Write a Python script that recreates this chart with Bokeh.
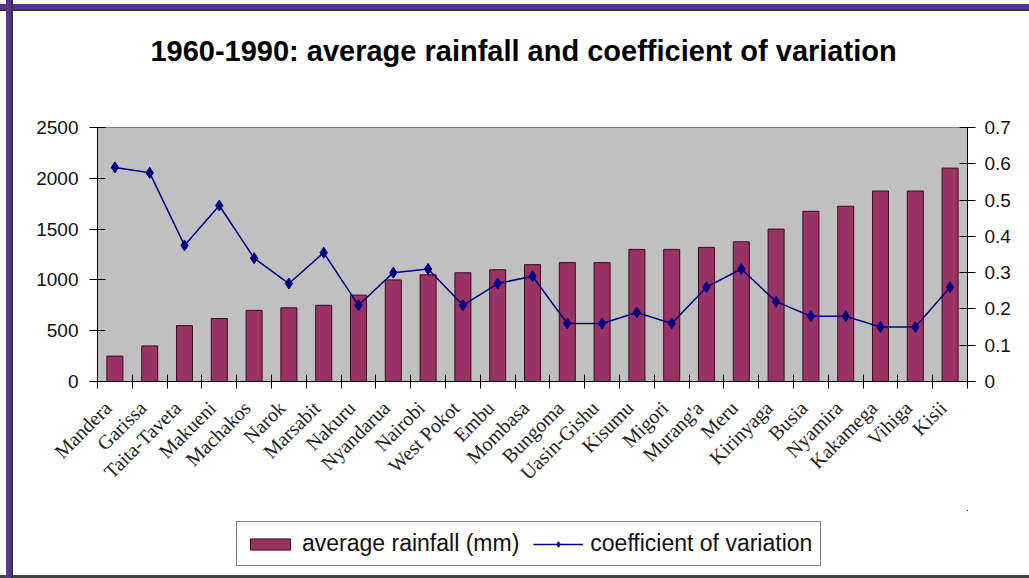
from bokeh.plotting import figure
from bokeh.layouts import column
from bokeh.models import (Range1d, LinearAxis, FixedTicker, CustomJSTickFormatter,
                          Legend, LegendItem, Label, ColumnDataSource)
from bokeh.embed import file_html
from bokeh.resources import INLINE
import math

# ---- data ----
districts = ["Mandera", "Garissa", "Taita-Taveta", "Makueni", "Machakos", "Narok",
             "Marsabit", "Nakuru", "Nyandarua", "Nairobi", "West Pokot", "Embu",
             "Mombasa", "Bungoma", "Uasin-Gishu", "Kisumu", "Migori", "Murang'a",
             "Meru", "Kirinyaga", "Busia", "Nyamira", "Kakamega", "Vihiga", "Kisii"]
rainfall = [250, 350, 550, 620, 700, 725, 750, 850, 1000, 1050, 1070, 1100,
            1150, 1170, 1170, 1300, 1300, 1320, 1375, 1500, 1675, 1725, 1875, 1875, 2100]
cv = [0.59, 0.575, 0.375, 0.485, 0.34, 0.27, 0.355, 0.21, 0.30, 0.31, 0.21, 0.27,
      0.29, 0.16, 0.16, 0.19, 0.16, 0.26, 0.31, 0.22, 0.18, 0.18, 0.15, 0.15, 0.26]
left_ticks = [0, 500, 1000, 1500, 2000, 2500]
right_ticks = [0, 0.1, 0.2, 0.3, 0.4, 0.5, 0.6, 0.7]
title_text = "1960-1990: average rainfall and coefficient of variation"
legend_labels = ["average rainfall (mm)", "coefficient of variation"]

n = len(districts)
centers = [i + 0.5 for i in range(n)]
bounds = [float(i) for i in range(n + 1)]
LABEL_SHIFT = 0.2  # category labels sit a little left of the bar centre
label_pos = [c - LABEL_SHIFT for c in centers]
src = ColumnDataSource(dict(x=centers, rain=rainfall, cv=cv, name=districts))

BAR_FILL, BAR_LINE = "#993366", "#3a0a20"
LINE_COL = "#000080"
AXIS_FONT = "Liberation Sans"

W = 1029
H_TITLE, H_MAIN, H_LEG = 100, 410, 68


def strip(height):
    # a blank band whose ranges keep any data far out of view
    f = figure(width=W, height=height, output_backend="svg", toolbar_location=None,
               x_range=Range1d(-100, -90), y_range=Range1d(-100, -90), title=None,
               min_border=0, x_axis_type=None, y_axis_type=None)
    f.xgrid.visible = False
    f.ygrid.visible = False
    f.outline_line_color = None
    f.background_fill_color = None
    f.border_fill_color = None
    return f


# ---- title strip ----
tf = strip(H_TITLE)
tf.add_layout(Label(x=426, y=50, x_units="screen", y_units="screen", text=title_text,
                    text_font=AXIS_FONT, text_font_size="29px", text_font_style="bold",
                    text_align="center", text_baseline="middle", text_color="black"))

# ---- main chart ----
p = figure(width=W, height=H_MAIN, output_backend="svg", toolbar_location=None,
           x_range=Range1d(0, n), y_range=Range1d(0, 2500), title=None,
           min_border_left=97, min_border_right=62, min_border_top=27,
           min_border_bottom=129, x_axis_type=None, y_axis_type=None)
p.background_fill_color = "#c0c0c0"
p.border_fill_color = None
p.outline_line_color = "#808080"
p.xgrid.visible = False
p.ygrid.visible = False
p.extra_y_ranges = {"cv": Range1d(0, 0.7)}

yl = LinearAxis(ticker=FixedTicker(ticks=left_ticks))
yl.major_label_text_font = AXIS_FONT
yl.major_label_text_font_size = "19px"
yl.major_label_text_color = "#111111"
yl.major_tick_in = 8
yl.major_tick_out = 8
yl.major_label_standoff = 11
yl.minor_tick_line_color = None
p.add_layout(yl, "left")

yr = LinearAxis(y_range_name="cv", ticker=FixedTicker(ticks=right_ticks),
                formatter=CustomJSTickFormatter(code="return tick == 0 ? '0' : tick.toFixed(1);"))
yr.major_label_text_font = AXIS_FONT
yr.major_label_text_font_size = "19px"
yr.major_label_text_color = "#111111"
yr.major_tick_in = 8
yr.major_tick_out = 8
yr.major_label_standoff = 9
yr.minor_tick_line_color = None
p.add_layout(yr, "right")

xb = LinearAxis(ticker=FixedTicker(ticks=label_pos, minor_ticks=bounds))
xb.major_label_overrides = {c: d for c, d in zip(label_pos, districts)}
xb.major_tick_line_color = None
xb.minor_tick_line_color = "black"
xb.minor_tick_in = 7
xb.minor_tick_out = 7
xb.major_label_orientation = math.pi / 4
xb.major_label_text_font = "Liberation Serif"
xb.major_label_text_font_size = "20px"
xb.major_label_text_color = "#222222"
xb.major_label_standoff = 16
p.add_layout(xb, "below")

p.vbar(x="x", top="rain", width=0.46, source=src, fill_color=BAR_FILL,
       line_color=BAR_LINE, line_width=1)
p.line(x="x", y="cv", source=src, y_range_name="cv", line_color=LINE_COL, line_width=1.5)
p.scatter(x="x", y="cv", source=src, y_range_name="cv", marker="diamond",
          size=11, fill_color=LINE_COL, line_color=LINE_COL)

# ---- legend strip (same data, kept out of view; only the legend shows) ----
lf = strip(H_LEG)
lb = lf.vbar(x="x", top="rain", width=0.46, source=src, fill_color=BAR_FILL,
             line_color=BAR_LINE)
ll = lf.line(x="x", y="cv", source=src, line_color=LINE_COL, line_width=1.5)
lm = lf.scatter(x="x", y="cv", source=src, marker="diamond", size=10,
                fill_color=LINE_COL, line_color=LINE_COL)
legend = Legend(items=[LegendItem(label=legend_labels[0], renderers=[lb]),
                       LegendItem(label=legend_labels[1], renderers=[ll, lm])],
                orientation="horizontal", location=(139, 12))
legend.label_text_font = AXIS_FONT
legend.label_text_font_size = "23px"
legend.label_text_color = "#111111"
legend.glyph_width = 50
legend.glyph_height = 14
legend.label_standoff = 7
legend.spacing = 14
legend.padding = 8
legend.margin = 0
legend.border_line_color = "black"
legend.border_line_width = 1
legend.background_fill_color = "white"
legend.background_fill_alpha = 1
lf.add_layout(legend, "center")

lay = column(tf, p, lf)
lay.styles = {
    "width": "1029px",
    "height": "578px",
    "overflow": "hidden",
    "background-color": "white",
    "background-repeat": "no-repeat",
    "background-size": "100% 100%",
    "background-image": (
        "linear-gradient(to right, transparent 0px, transparent 6px, #55359a 6px, #55359a 11px, "
        "#333333 11px, #333333 13px, transparent 13px), "
        "linear-gradient(to bottom, transparent 0px, transparent 4px, #55359a 4px, #55359a 9px, "
        "#333333 9px, #333333 11px, transparent 11px), "
        "linear-gradient(to top, #444444 0px, #444444 3px, transparent 3px)"),
}

open("out.html", "w").write(file_html(lay, INLINE))
